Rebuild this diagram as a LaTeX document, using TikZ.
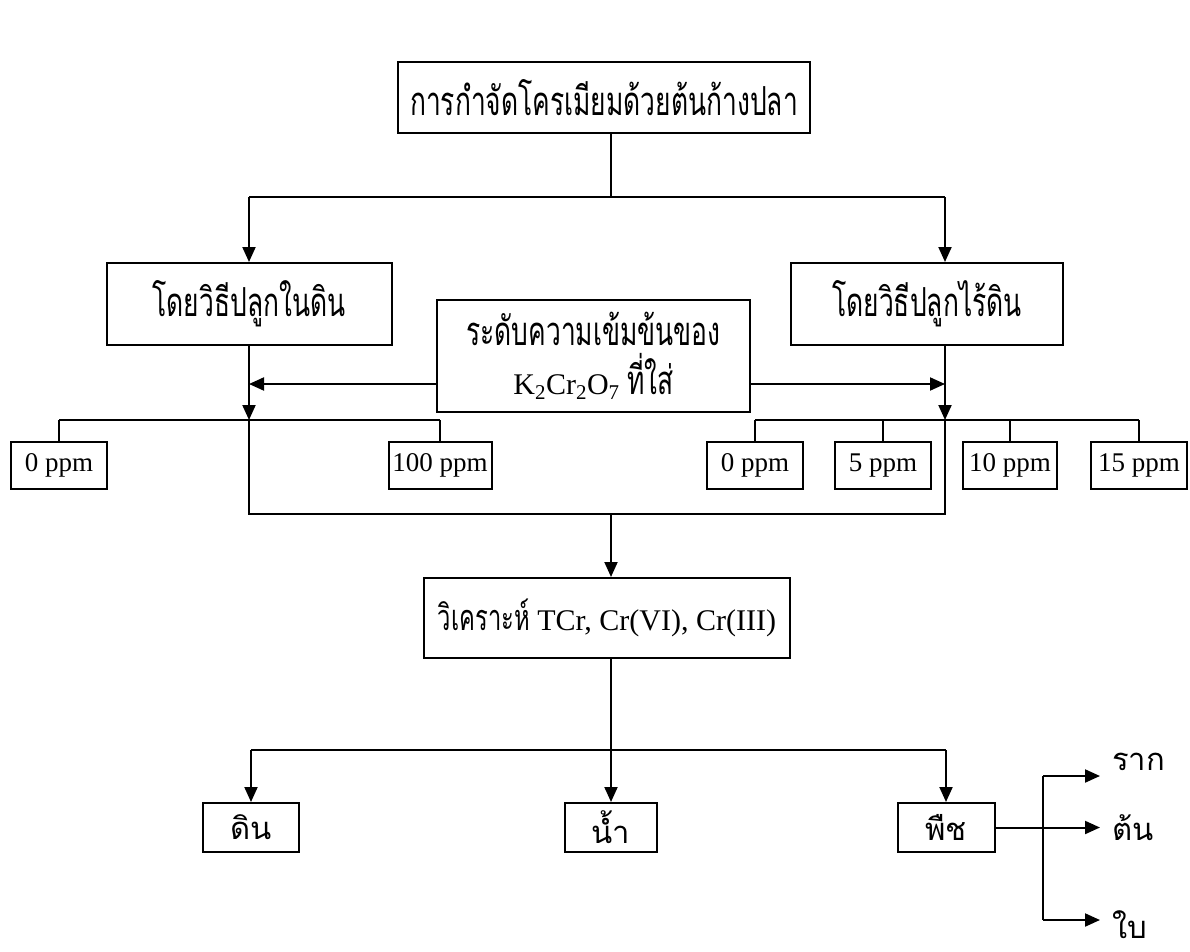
\documentclass[tikz,border=0pt]{standalone}
\usepackage{fontspec}
\setmainfont{Liberation Serif}
\newfontfamily\thaifam[Script=Thai,FakeStretch=0.66]{Loma}
\newfontfamily\thaisans[Script=Thai]{Loma}
\newcommand\thaitxt[1]{{\fontsize{40}{44}\selectfont\thaifam #1}}
\newcommand\thaismall[1]{{\fontsize{36}{40}\selectfont\thaifam #1}}
\newcommand\thaiplain[1]{{\fontsize{31}{36}\selectfont\thaisans #1}}
\usetikzlibrary{arrows.meta}
\begin{document}
\begin{tikzpicture}[x=1pt,y=-1pt,
  box/.style={draw,line width=2pt,inner sep=0pt,align=center,font=\fontsize{27}{32}\selectfont},
  ln/.style={line width=2pt},
  arr/.style={line width=2pt,-{Triangle[length=15pt,width=13pt]}},
  lab/.style={anchor=base west,inner sep=0pt}
]
\useasboundingbox (0,0) rectangle (1190,952);
% boxes
\node[box,minimum width=412pt,minimum height=71pt] (top) at (604,97.5) {\thaitxt{การกำจัดโครเมียมด้วยต้นก้างปลา}};
\node[box,minimum width=285pt,minimum height=82pt] (soil) at (249,304) {\thaitxt{โดยวิธีปลูกในดิน}};
\node[box,minimum width=272pt,minimum height=82pt] (hydro) at (927,304) {\thaitxt{โดยวิธีปลูกไร้ดิน}};
\node[box,minimum width=313pt,minimum height=112pt,font=\fontsize{30}{49}\selectfont] (conc) at (593.5,356)
  {\thaitxt{ระดับความเข้มข้นของ}\\K\textsubscript{2}Cr\textsubscript{2}O\textsubscript{7} \thaitxt{ที่ใส่}};
\node[box,minimum width=96pt,minimum height=47pt] (L0) at (59,465.5) {0 ppm};
\node[box,minimum width=103pt,minimum height=47pt] (L100) at (440,465.5) {100 ppm};
\node[box,minimum width=96pt,minimum height=47pt] (R0) at (755,465.5) {0 ppm};
\node[box,minimum width=96pt,minimum height=47pt] (R5) at (883,465.5) {5 ppm};
\node[box,minimum width=94pt,minimum height=47pt] (R10) at (1010,465.5) {10 ppm};
\node[box,minimum width=96pt,minimum height=47pt] (R15) at (1139,465.5) {15 ppm};
\node[box,minimum width=366pt,minimum height=80pt,font=\fontsize{30}{34}\selectfont] (ana) at (607,618) {\thaismall{วิเคราะห์} TCr, Cr(VI), Cr(III)};
\node[box,minimum width=96pt,minimum height=49pt] (din) at (251,827.5) {\thaiplain{ดิน}};
\node[box,minimum width=92pt,minimum height=49pt] (nam) at (611,827.5) {\thaiplain{น้ำ}};
\node[box,minimum width=97pt,minimum height=49pt] (pue) at (946,827.5) {\thaiplain{พืช}};
% coordinates
\coordinate (c1) at (611,197);
\coordinate (aL) at (249,384);
\coordinate (aR) at (945,384);
\coordinate (sL) at (249,420);
\coordinate (sR) at (945,420);
\coordinate (bL) at (249,514);
\coordinate (bR) at (945,514);
\coordinate (bM) at (611,514);
\coordinate (cM) at (611,750);
\coordinate (br) at (1043,827.5);
\coordinate (r1) at (1100,776);
\coordinate (r2) at (1100,827.5);
\coordinate (r3) at (1100,920);
% connectors top
\draw[ln] (top.south -| c1) -- (c1);
\draw[ln] (c1 -| soil.north) -- (c1 -| aR);
\draw[arr] (c1 -| soil.north) -- (soil.north);
\draw[arr] (c1 -| aR) -- (hydro.north -| aR);
% concentration arrows
\draw[arr] (conc.west |- aL) -- (aL);
\draw[arr] (conc.east |- aR) -- (aR);
\draw[arr] (soil.south -| sL) -- (sL);
\draw[arr] (hydro.south -| sR) -- (sR);
% ppm branches
\draw[ln] (sL -| L0.north) -- (sL -| L100.north);
\draw[ln] (sL -| L0.north) -- (L0.north);
\draw[ln] (sL -| L100.north) -- (L100.north);
\draw[ln] (sR -| R0.north) -- (sR -| R15.north);
\foreach \n in {R0,R5,R10,R15} \draw[ln] (sR -| \n.north) -- (\n.north);
% merge
\draw[ln] (sL) -- (bL) -- (bR) -- (sR);
\draw[arr] (bM) -- (ana.north -| bM);
% bottom
\draw[ln] (ana.south -| cM) -- (cM);
\draw[ln] (cM -| din.north) -- (cM -| pue.north);
\draw[arr] (cM -| din.north) -- (din.north);
\draw[arr] (cM) -- (nam.north);
\draw[arr] (cM -| pue.north) -- (pue.north);
% plant parts
\draw[ln] (pue.east) -- (br);
\draw[ln] (br |- r1) -- (br |- r3);
\draw[arr] (br |- r1) -- (r1);
\draw[arr] (br) -- (r2);
\draw[arr] (br |- r3) -- (r3);
\node[lab] (lr1) at (1112,770) {\thaiplain{ราก}};
\node[lab] (lr2) at (1112,840) {\thaiplain{ต้น}};
\node[lab] (lr3) at (1112,938) {\thaiplain{ใบ}};
\end{tikzpicture}
\end{document}
